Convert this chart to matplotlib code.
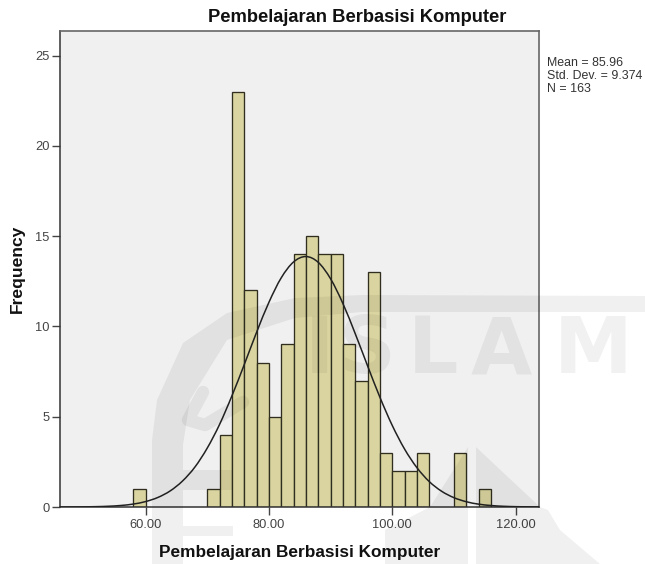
#!/usr/bin/env python
"""SPSS-style histogram with normal curve and faint repository watermark."""
import numpy as np
import matplotlib; matplotlib.use('Agg'); import matplotlib.pyplot as plt
from matplotlib.patches import Polygon, PathPatch
from matplotlib.path import Path

W, H = 645, 564
title = 'Pembelajaran Berbasisi Komputer'
xlabel = 'Pembelajaran Berbasisi Komputer'
ylabel = 'Frequency'
stats = 'Mean = 85.96\nStd. Dev. = 9.374\nN = 163'
bin_left = [58, 70, 72, 74, 76, 78, 80, 82, 84, 86, 88, 90, 92, 94, 96, 98, 100, 102, 104, 110, 114]
counts = [1, 1, 4, 23, 12, 8, 5, 9, 14, 15, 14, 14, 9, 7, 13, 3, 2, 2, 3, 3, 1]
bin_width = 2
curve_x = [46, 48, 50, 52, 54, 56, 58, 60, 62, 64, 66, 68, 70, 72, 74, 76, 78, 80, 82, 84, 86, 88, 90,
           92, 94, 96, 98, 100, 102, 104, 106, 108, 110, 112, 114, 116, 118, 120, 122, 124]
curve_y = [0.002, 0.004, 0.009, 0.02, 0.042, 0.084, 0.162, 0.30, 0.529, 0.892, 1.44, 2.21, 3.26, 4.57,
           6.15, 7.88, 9.67, 11.33, 12.69, 13.57, 13.87, 13.55, 12.64, 11.27, 9.60, 7.82, 6.08, 4.52,
           3.21, 2.18, 1.41, 0.874, 0.518, 0.293, 0.158, 0.082, 0.04, 0.019, 0.009, 0.004]
xticks = [60, 80, 100, 120]
yticks = [0, 5, 10, 15, 20, 25]

def smooth_path(x, y):
    # Catmull-Rom through the read points, as bezier segments
    p = np.column_stack([x, y]); verts = [p[0]]; codes = [Path.MOVETO]
    for i in range(len(p)-1):
        a, b, c, d = p[max(i-1, 0)], p[i], p[i+1], p[min(i+2, len(p)-1)]
        verts += [b+(c-a)/6, c-(d-b)/6, c]; codes += [Path.CURVE4]*3
    return Path(verts, codes)

plt.rcParams['font.family'] = ['Liberation Sans', 'DejaVu Sans']
fig = plt.figure(figsize=(W/100, H/100), dpi=100, facecolor='white')
ax = fig.add_axes([60/W, 1-507/H, 479/W, 476/H], facecolor='#f0f0f0')
ax.bar(bin_left, counts, width=bin_width, align='edge', color='#dad5a0', edgecolor='#302e1e', linewidth=0.95, zorder=2)
ax.add_patch(PathPatch(smooth_path(curve_x, curve_y), facecolor='none', edgecolor='#222222', lw=1.1, zorder=3, clip_on=True))
ax.set_xlim(46.13, 123.8); ax.set_ylim(0, 26.36)
ax.set_xticks(xticks, [f'{v:.2f}' for v in xticks]); ax.set_yticks(yticks)
ax.tick_params(length=6, width=1, color='#444444', labelcolor='#444444', labelsize=9.3)
ax.tick_params(axis='y', pad=1.5); ax.tick_params(axis='x', pad=3)
for s in ('top', 'right'): ax.spines[s].set_color('#666666'); ax.spines[s].set_linewidth(1.2)
for s in ('bottom', 'left'): ax.spines[s].set_color('#333333'); ax.spines[s].set_linewidth(1.1)
fig.text(357/W, 1-17/H, title, ha='center', va='center', fontsize=13.2, fontweight='bold', color='#111111')
fig.text(300/W, 1-552/H, xlabel, ha='center', va='center', fontsize=12.4, fontweight='bold', color='#111111')
fig.text(17/W, 1-269/H, ylabel, ha='center', va='center', rotation=90, fontsize=12.6, fontweight='bold', color='#111111')
fig.text(547/W, 1-76/H, stats, ha='left', va='center', fontsize=8.95, color='#333333', linespacing=1.08)

# watermark overlay, in pixel coordinates
wm = fig.add_axes([0, 0, 1, 1], facecolor='none', zorder=5); wm.set_xlim(0, W); wm.set_ylim(H, 0); wm.axis('off')
shade = dict(facecolor='black', edgecolor='none', alpha=0.06)
arc = [(645, 296), (362, 295), (295, 298), (227, 313), (183, 343), (157, 400), (152, 440), (152, 564), (183, 564),
       (183, 445), (190, 400), (227, 340), (295, 318), (362, 312), (645, 312)]
wm.add_patch(Polygon(arc, **shade))
wm.add_patch(Polygon([(183, 470), (233, 470), (233, 490), (183, 490)], **shade))
wm.add_patch(Polygon([(183, 526), (233, 526), (233, 536), (183, 536)], **shade))
wm.add_patch(Polygon([(468, 447), (468, 564), (385, 564), (385, 530), (430, 507)], **shade))
wm.add_patch(Polygon([(476, 447), (476, 564), (600, 564), (560, 530), (548, 510), (540, 507)], **shade))
wm.plot([203, 188, 205, 243], [392, 420, 425, 402], color='black', alpha=0.06, lw=9, solid_capstyle='round', solid_joinstyle='round')
for ch, cx in zip('ISLAM', [319, 367, 433, 501, 593]):
    wm.text(cx, 351, ch, ha='center', va='center', fontsize=57, fontweight='bold', family='DejaVu Sans', color='black', alpha=0.055)
fig.savefig('out.png', dpi=100)
